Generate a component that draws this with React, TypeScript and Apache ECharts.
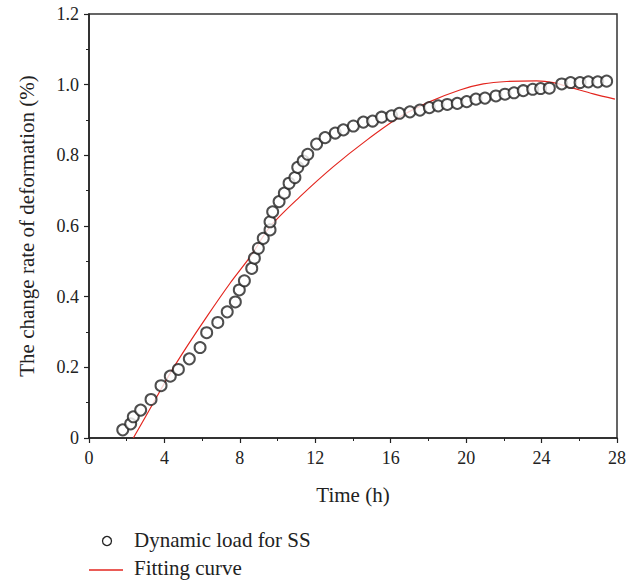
import React, { useEffect, useRef } from "react";
import * as echarts from "echarts";

const obsX = [1.79, 2.21, 2.35, 2.74, 3.29, 3.82, 4.31, 4.74, 5.32, 5.89, 6.24, 6.83, 7.33, 7.76, 7.97, 8.24, 8.63, 8.77, 8.98, 9.24, 9.6, 9.6, 9.74, 10.08, 10.36, 10.61, 10.92, 11.07, 11.36, 11.6, 12.07, 12.52, 13.06, 13.49, 14.02, 14.55, 15.04, 15.52, 16.05, 16.46, 17.02, 17.55, 18.05, 18.52, 19.0, 19.53, 20.03, 20.52, 21.0, 21.58, 22.06, 22.54, 23.03, 23.53, 23.95, 24.41, 25.07, 25.54, 26.04, 26.48, 26.98, 27.45];
const obsY = [0.023, 0.04, 0.06, 0.079, 0.109, 0.148, 0.175, 0.194, 0.224, 0.256, 0.298, 0.327, 0.357, 0.385, 0.419, 0.445, 0.48, 0.509, 0.537, 0.565, 0.589, 0.612, 0.64, 0.669, 0.693, 0.721, 0.737, 0.766, 0.784, 0.803, 0.832, 0.85, 0.863, 0.872, 0.883, 0.894, 0.897, 0.908, 0.912, 0.919, 0.923, 0.928, 0.935, 0.94, 0.944, 0.947, 0.952, 0.959, 0.962, 0.968, 0.973, 0.977, 0.983, 0.987, 0.989, 0.99, 1.002, 1.006, 1.006, 1.008, 1.008, 1.01];

const fitX = [2.35, 3.41, 4.3, 5.18, 6.24, 7.48, 8.6, 9.6, 11.19, 12.96, 14.73, 16.49, 18.08, 19.67, 20.91, 22.15, 23.74, 24.62, 25.68, 26.74, 27.89];
const fitY = [0, 0.099, 0.183, 0.258, 0.343, 0.438, 0.517, 0.598, 0.683, 0.768, 0.843, 0.909, 0.952, 0.985, 1.002, 1.009, 1.011, 1.006, 0.99, 0.974, 0.959];

const seriesNames = ["Dynamic load for SS", "Fitting curve"];
const xLabel = "Time (h)";
const yLabel = "The change rate of deformation (%)";

const FONT = "'Liberation Serif', 'DejaVu Serif', serif";
const INK = "#222";
const RED = "#e3261f";

export default function App() {
  const ref = useRef<HTMLDivElement>(null);
  useEffect(() => {
    const chart = echarts.init(ref.current!, null, { renderer: "svg" });
    const axisCommon = {
      axisLine: { show: true, lineStyle: { color: INK, width: 1.5 } },
      axisTick: { show: true, inside: false, length: 5, lineStyle: { color: INK, width: 1.2 } },
      minorTick: { show: true, splitNumber: 2, length: 3, lineStyle: { color: INK, width: 1 } },
      splitLine: { show: false },
      axisLabel: { color: INK, fontFamily: FONT, fontSize: 18 },
      nameTextStyle: { color: INK, fontFamily: FONT, fontSize: 21 },
    };
    const legendText = { fill: INK, font: `21px ${FONT}`, verticalAlign: "middle" as const };
    chart.setOption({
      animation: false,
      backgroundColor: "#fff",
      grid: {
        left: 89,
        right: 27,
        top: 14,
        bottom: 146,
        show: true,
        borderColor: "#333",
        borderWidth: 1.5,
        backgroundColor: "transparent",
      },
      xAxis: {
        type: "value",
        min: 0,
        max: 28,
        interval: 4,
        name: xLabel,
        nameLocation: "middle",
        nameGap: 46,
        ...axisCommon,
        axisLabel: { ...axisCommon.axisLabel, margin: 11 },
      },
      yAxis: {
        type: "value",
        min: 0,
        max: 1.2,
        interval: 0.2,
        name: yLabel,
        nameLocation: "middle",
        nameGap: 52,
        ...axisCommon,
        axisLabel: {
          ...axisCommon.axisLabel,
          margin: 10,
          formatter: (v: number) => (v === 0 ? "0" : v.toFixed(1)),
        },
      },
      graphic: [
        {
          type: "circle",
          shape: { cx: 107, cy: 541, r: 4.5 },
          style: { fill: "#fff", stroke: INK, lineWidth: 1.3 },
        },
        {
          type: "text",
          x: 134,
          y: 540,
          style: { ...legendText, text: seriesNames[0] },
        },
        {
          type: "line",
          shape: { x1: 89, y1: 570, x2: 123, y2: 570 },
          style: { stroke: RED, lineWidth: 1.3 },
        },
        {
          type: "text",
          x: 134,
          y: 568,
          style: { ...legendText, text: seriesNames[1] },
        },
      ],
      series: [
        {
          name: seriesNames[0],
          type: "scatter",
          symbol: "emptyCircle",
          symbolSize: 11,
          itemStyle: { color: INK, borderColor: INK, borderWidth: 1.1 },
          data: obsX.map((x, i) => [x, obsY[i]]),
          z: 3,
        },
        {
          name: seriesNames[1],
          type: "line",
          symbol: "none",
          smooth: 0.3,
          lineStyle: { color: RED, width: 1.2 },
          itemStyle: { color: RED },
          data: fitX.map((x, i) => [x, fitY[i]]),
          z: 2,
        },
      ],
    });
    return () => chart.dispose();
  }, []);
  return (
    <div
      ref={ref}
      style={{ position: "absolute", left: 0, top: 0, width: 644, height: 584 }}
    />
  );
}
